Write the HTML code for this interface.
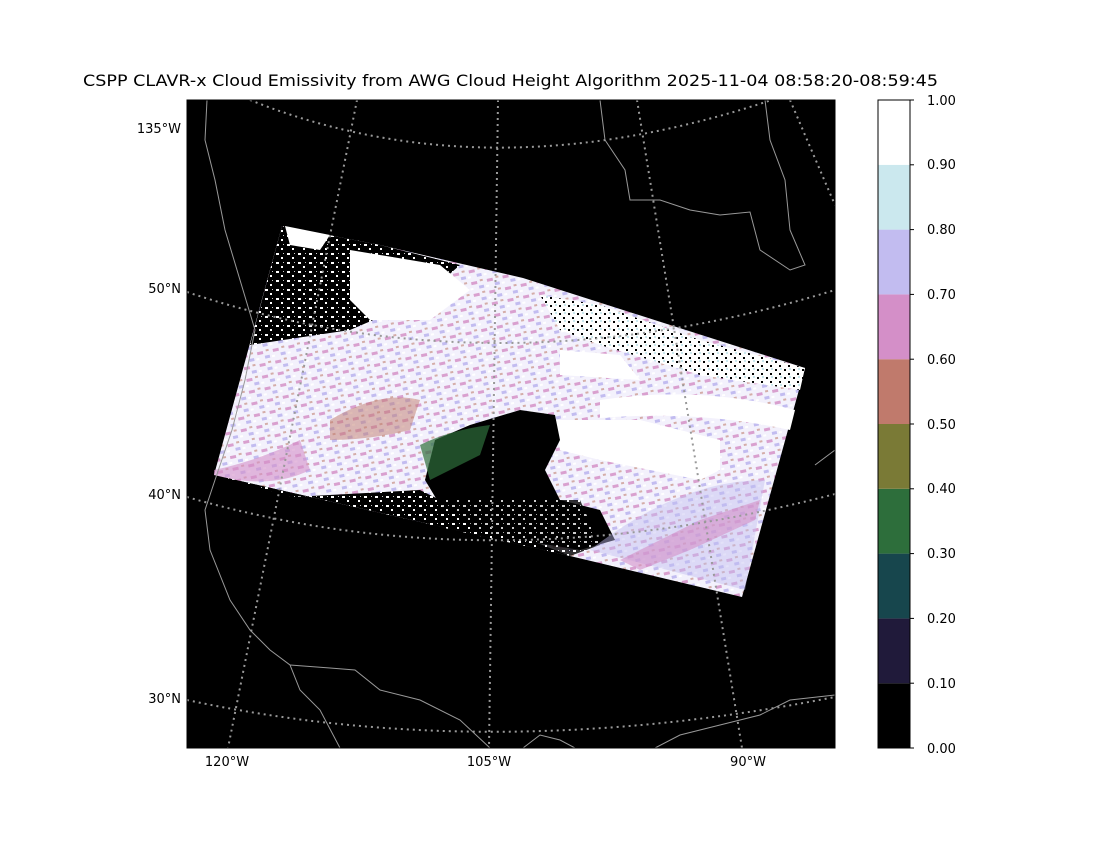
<!DOCTYPE html>
<html><head><meta charset="utf-8"><style>
body{margin:0;background:#fff;width:1120px;height:840px;overflow:hidden;font-family:"Liberation Sans","DejaVu Sans",sans-serif}
</style></head><body>
<svg width="1120" height="840" viewBox="0 0 1120 840" xmlns="http://www.w3.org/2000/svg" font-family="DejaVu Sans, Liberation Sans, sans-serif">
<rect width="1120" height="840" fill="#fff"/>
<text x="83" y="86" font-size="16" textLength="855" lengthAdjust="spacingAndGlyphs" fill="#000">CSPP CLAVR-x Cloud Emissivity from AWG Cloud Height Algorithm 2025-11-04 08:58:20-08:59:45</text>
<defs><clipPath id="ax"><rect x="187" y="100" width="648" height="648"/></clipPath>
<pattern id="tx" width="16" height="12" patternUnits="userSpaceOnUse" patternTransform="rotate(-12)">
<rect width="16" height="12" fill="#f3f1fc"/><rect x="2" y="2" width="6" height="3" fill="#d9a0cf"/><rect x="9" y="7" width="5" height="3" fill="#c2bcf0"/><rect x="0" y="8" width="3" height="2" fill="#fff"/><rect x="11" y="1" width="3" height="2" fill="#c08070" opacity="0.6"/></pattern>
<pattern id="sp" width="11" height="9" patternUnits="userSpaceOnUse">
<rect width="11" height="9" fill="#000"/><rect x="1" y="1" width="3" height="2" fill="#fff"/><rect x="6" y="5" width="2" height="2" fill="#fff"/><rect x="8" y="1" width="1" height="1" fill="#ccc"/></pattern>
<pattern id="sp2" width="9" height="8" patternUnits="userSpaceOnUse">
<rect width="9" height="8" fill="#fff"/><rect x="1" y="1" width="2" height="2" fill="#000"/><rect x="5" y="5" width="2" height="2" fill="#000"/><rect x="6" y="0" width="2" height="2" fill="#cbe8ee"/></pattern>
</defs>
<g clip-path="url(#ax)">
<rect x="187" y="100" width="648" height="648" fill="#000"/>
<polygon points="282,226 380,245 523,278 805,368 742,597 570,556 214,475" fill="url(#tx)"/>
<polygon points="282,226 380,245 460,265 420,300 350,330 250,345 262,300" fill="url(#sp)"/>
<polygon points="285,226 330,235 320,250 290,245" fill="#fff"/>
<polygon points="350,250 440,265 470,290 430,320 370,320 350,300" fill="#fff"/>
<polygon points="540,295 600,305 700,340 805,368 800,390 700,375 600,345 560,330" fill="url(#sp2)"/>
<polygon points="560,350 620,355 640,380 560,375" fill="#fff"/>
<path d="M600,400 Q700,385 795,410 L790,430 Q700,410 600,418Z" fill="#fff"/>
<polygon points="555,420 640,420 720,440 720,470 700,480 650,470 600,460 560,450" fill="#fff"/>
<polygon points="293,497 420,490 480,520 570,556 214,475" fill="url(#sp)"/>
<path d="M435,440 L470,425 L520,410 L555,415 L560,440 L545,470 L560,500 L600,510 L615,540 L580,550 L520,540 L480,530 L440,505 L425,480Z" fill="#000"/>
<path d="M430,500 L580,500 L600,545 L570,556 L430,525Z" fill="url(#sp)" opacity="0.8"/>
<path d="M420,445 Q450,430 490,425 L480,455 Q450,470 430,480 Z" fill="#2d6e3b" opacity="0.7"/>
<path d="M330,420 Q380,390 420,400 L410,430 Q370,440 330,440Z" fill="#c07a6c" opacity="0.5"/>
<path d="M214,470 Q260,460 300,440 L310,470 Q270,490 214,475Z" fill="#d48fc8" opacity="0.6"/>
<path d="M590,550 Q680,480 765,480 L745,590 Z" fill="#c2bcf0" opacity="0.45"/>
<path d="M620,560 L700,520 L760,500 L755,520 L690,550 L640,570Z" fill="#d48fc8" opacity="0.6"/>
<g fill="none" stroke="#999" stroke-width="1">
<path d="M207,100 L205,140 L215,180 L225,230 L240,280 L255,330 L245,380 L232,430 L215,480 L205,510 L210,550 L230,600 L250,630 L270,650 L290,665 L300,690 L320,710 L340,748"/>
<path d="M290,665 L330,668 L355,670 L380,690 L420,700 L460,720 L490,748"/>
<path d="M523,748 L540,735 L560,740 L575,748"/>
<path d="M655,748 L680,735 L720,725 L760,715 L790,700 L835,695"/>
<path d="M600,100 L605,140 L625,170 L630,200 L660,200 L690,210 L720,215 L750,212 L760,250 L790,270 L805,265 L790,230 L785,180 L770,140 L765,100"/>
<path d="M835,450 L815,465"/>
</g>
<g fill="none" stroke="#999" stroke-width="2" stroke-dasharray="2,4">
<path d="M187,700 Q490,765 835,697"/>
<path d="M187,497 Q490,585 835,494"/>
<path d="M187,292 Q495,395 835,290"/>
<path d="M250,100 Q500,200 800,90"/>
<path d="M357,100 L228,748"/>
<path d="M498,100 L489,748"/>
<path d="M637,100 L742,748"/>
<path d="M790,100 L835,205"/>
</g>
</g>
<rect x="187" y="100" width="648" height="648" fill="none" stroke="#000" stroke-width="1"/>
<g font-size="13" fill="#000">
<text x="181" y="133" text-anchor="end">135°W</text>
<text x="181" y="293" text-anchor="end">50°N</text>
<text x="181" y="499" text-anchor="end">40°N</text>
<text x="181" y="703" text-anchor="end">30°N</text>
<text x="227" y="766" text-anchor="middle">120°W</text>
<text x="489" y="766" text-anchor="middle">105°W</text>
<text x="748" y="766" text-anchor="middle">90°W</text>
</g>
<g>
<rect x="878" y="683.2" width="32" height="64.8" fill="#000"/>
<rect x="878" y="618.4" width="32" height="64.8" fill="#201a3a"/>
<rect x="878" y="553.6" width="32" height="64.8" fill="#17464d"/>
<rect x="878" y="488.8" width="32" height="64.8" fill="#2d6e3b"/>
<rect x="878" y="424" width="32" height="64.8" fill="#7a7a36"/>
<rect x="878" y="359.2" width="32" height="64.8" fill="#c07a6c"/>
<rect x="878" y="294.4" width="32" height="64.8" fill="#d48fc8"/>
<rect x="878" y="229.6" width="32" height="64.8" fill="#c2bcf0"/>
<rect x="878" y="164.8" width="32" height="64.8" fill="#cbe8ee"/>
<rect x="878" y="100" width="32" height="64.8" fill="#fff"/>
<rect x="878" y="100" width="32" height="648" fill="none" stroke="#000"/>
</g>
<g font-size="13" fill="#000" stroke="#000">
<g stroke-width="1">
<line x1="910" y1="748" x2="914" y2="748"/><line x1="910" y1="683.2" x2="914" y2="683.2"/><line x1="910" y1="618.4" x2="914" y2="618.4"/><line x1="910" y1="553.6" x2="914" y2="553.6"/><line x1="910" y1="488.8" x2="914" y2="488.8"/><line x1="910" y1="424" x2="914" y2="424"/><line x1="910" y1="359.2" x2="914" y2="359.2"/><line x1="910" y1="294.4" x2="914" y2="294.4"/><line x1="910" y1="229.6" x2="914" y2="229.6"/><line x1="910" y1="164.8" x2="914" y2="164.8"/><line x1="910" y1="100" x2="914" y2="100"/>
</g>
<g stroke="none">
<text x="927" y="753">0.00</text><text x="927" y="688">0.10</text><text x="927" y="623">0.20</text><text x="927" y="558">0.30</text><text x="927" y="493">0.40</text><text x="927" y="429">0.50</text><text x="927" y="364">0.60</text><text x="927" y="299">0.70</text><text x="927" y="234">0.80</text><text x="927" y="169">0.90</text><text x="927" y="105">1.00</text>
</g></g>
</svg>
</body></html>
